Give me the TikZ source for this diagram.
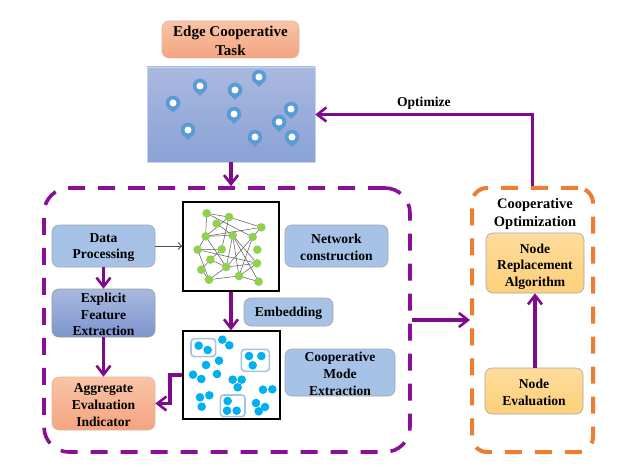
\documentclass[tikz,border=0pt]{standalone}
\usepackage{fontspec}
\setmainfont{Liberation Serif}
\usetikzlibrary{arrows.meta,shapes.geometric}
\definecolor{vio}{HTML}{8A0F97}
\definecolor{viod}{HTML}{7F0A8C}
\definecolor{orng}{HTML}{ED7D31}
\definecolor{grn}{HTML}{92D050}
\definecolor{cyn}{HTML}{00B0F0}
\definecolor{pincol}{HTML}{5B9BD5}
\definecolor{lblue}{HTML}{A6C2E6}
\definecolor{maptop}{HTML}{A9B8DF}
\definecolor{mapbot}{HTML}{8BA2D6}
\definecolor{extop}{HTML}{A9B9E0}
\definecolor{exbot}{HTML}{7D95CE}
\definecolor{saltop}{HTML}{F9C4A8}
\definecolor{salbot}{HTML}{F4A47F}
\definecolor{yeltop}{HTML}{FEDC9C}
\definecolor{yelbot}{HTML}{FDD07A}
\tikzset{
  x=1pt,y=-1pt,
  lbl/.style={font=\fontsize{13.6}{16.6}\selectfont\bfseries,align=center,inner sep=0pt},
  basebox/.style={lbl,draw=#1,line width=.6pt,rounded corners=7pt},
  bluebox/.style={basebox=gray!70,fill=lblue},
  exbox/.style={basebox=gray!80,top color=extop,bottom color=exbot},
  salmon/.style={basebox=saltop!80!gray,top color=saltop,bottom color=salbot},
  yel/.style={basebox=gray!70,top color=yeltop,bottom color=yelbot},
  flow/.style={draw=viod,line width=3.1pt,-{Straight Barb[length=9pt,width=14pt,line width=2.6pt]}},
  thinflow/.style={draw=black!70,line width=.9pt,-{Straight Barb[length=4pt,width=7pt,line width=.8pt]}},
  panel/.style={draw=black,line width=1.2pt,fill=white},
  netn/.style={circle,fill=grn,inner sep=0pt,minimum size=8.6pt},
  dot/.style={circle,fill=cyn,inner sep=0pt,minimum size=8.6pt},
  grp/.style={draw=lblue,line width=1.6pt,rounded corners=3.5pt},
  edgeln/.style={draw=black!65,line width=.5pt},
  dashv/.style={draw=vio,line width=3.6pt,dash pattern=on 17pt off 13pt,rounded corners=25pt},
  dasho/.style={draw=orng,line width=4pt,dash pattern=on 17pt off 13pt,rounded corners=15pt},
}
\newcommand{\bx}[7]{\node[#6,minimum width={(#4)-(#2)},minimum height={(#5)-(#3)}] (#1) at ({((#2)+(#4))/2},{((#3)+(#5))/2}) {\rule{0pt}{.9em}#7};}
\newcommand{\mypin}[3]{%
  \node[inner sep=0pt,minimum size=0pt] (#1) at (#2,#3) {};
  \fill[pincol] ({#2-6.9},{#3+2.6}) -- (#2,{#3+10}) -- ({#2+6.9},{#3+2.6}) -- cycle;
  \fill[pincol] (#2,#3) circle[radius=7.3];
  \fill[white] (#2,#3) circle[radius=3.5];}
\begin{document}
\begin{tikzpicture}
\useasboundingbox (0,0) rectangle (626,473);
\fill[white] (0,0) rectangle (626,473);
% title and map
\bx{task}{162}{21}{299}{58}{salmon,font=\fontsize{15}{18.4}\selectfont\bfseries}{Edge Cooperative\\Task}
\bx{map}{147}{67}{315}{162}{draw=lblue!70,line width=.5pt,top color=maptop,bottom color=mapbot,inner sep=0pt}{}
\mypin{p1}{173}{103}\mypin{p2}{200}{86}\mypin{p3}{235}{90}\mypin{p4}{259}{77}\mypin{p5}{291}{109}
\mypin{p6}{279}{122}\mypin{p7}{292}{137}\mypin{p8}{255}{137}\mypin{p9}{234}{114}\mypin{p10}{188}{130}
% dashed panels
\bx{vbox}{44}{188}{410}{452}{dashv,inner sep=0pt}{}
\bx{obox}{472}{188}{593}{452}{dasho,inner sep=0pt}{}
% left boxes
\bx{data}{52}{225}{155}{267}{bluebox}{Data\\Processing}
\bx{expl}{52}{289}{155}{337}{exbox}{Explicit\\Feature\\Extraction}
\bx{agg}{52}{377}{155}{430}{salmon}{Aggregate\\Evaluation\\Indicator}
% right labels
\bx{ncon}{285}{225}{388}{267}{bluebox}{Network\\construction}
\bx{emb}{244}{298}{333}{326}{bluebox}{Embedding}
\bx{cme}{285}{349}{395}{396}{bluebox}{Cooperative\\Mode\\Extraction}
% network panel
\bx{net}{183}{202}{279}{291}{panel,inner sep=0pt}{}
\foreach \a/\b/\c/\d in {110/55/107/124,110/55/177/66,110/55/248/126,177/66/274/97,177/66/107/124,177/66/155/163,140/86/188/121,274/97/107/124,274/97/248/126,107/124/188/121,107/124/83/164,107/124/169/216,188/121/169/216,188/121/261/205,188/121/266/260,248/126/169/216,248/126/207/243,83/164/155/163,83/164/261/205,83/164/117/254,155/163/121/194,121/194/94/224,121/194/169/216,169/216/117/254,169/216/261/205,94/224/117/254,207/243/266/260,207/243/261/205,117/254/207/243,188/121/207/243}
  \draw[edgeln] ({170+\a/3},{195+\b/3}) -- ({170+\c/3},{195+\d/3});
\foreach \n/\a/\b in {1/110/55,2/177/66,3/140/86,4/274/97,5/107/124,6/188/121,7/248/126,8/83/164,9/155/163,10/262/164,11/121/194,12/261/205,13/169/216,14/94/224,15/207/243,16/117/254,17/266/260}
  \node[netn] (n\n) at ({170+\a/3},{195+\b/3}) {};
% cluster panel
\bx{low}{183}{331}{280}{419}{panel,inner sep=0pt}{}
\foreach \a/\b/\c/\d in {63/56/137/110,214/88/298/154,151/225/225/290}
  \draw[grp] ({170+\a/3},{320+\b/3}) rectangle ({170+\c/3},{320+\d/3});
\foreach \a/\b [count=\i] in {86/77,113/90,157/59,178/76,237/108,274/108,248/136,108/135,147/122,69/164,94/177,141/162,188/179,215/179,203/202,279/209,307/208,90/232,118/226,95/260,173/243,171/272,200/272,258/249,285/261,266/274}
  \node[dot] (d\i) at ({170+\a/3},{320+\b/3}) {};
% obox contents
\node[lbl,font=\fontsize{14.5}{17.5}\selectfont\bfseries] (otitle) at (535,214) {Cooperative\\Optimization};
\bx{nra}{486}{233}{584}{293}{yel}{\rule{0pt}{1.2em}Node\\Replacement\\Algorithm}
\bx{nev}{485}{368}{583}{414}{yel}{Node\\Evaluation}
% connectors
\coordinate (elbow) at (170,403.5);
\draw[flow] (map.south) -- (map.south |- vbox.north);
\draw[flow] (obox.north) |- (map.east) node[pos=.75,above=4pt,lbl,font=\fontsize{13.6}{16}\selectfont\bfseries] {Optimize};
\draw[flow] (vbox.east) -- (obox.west);
\draw[flow] (data.south) -- (expl.north);
\draw[flow] (expl.south) -- (agg.north);
\draw[thinflow] (data.east) -- (data.east -| net.west);
\draw[flow] (net.south) -- (net.south |- low.north);
\draw[flow] (low.west) -| (elbow) -- (agg.east);
\draw[flow] (nev.north -| nra.south) -- (nra.south);
\end{tikzpicture}
\end{document}
